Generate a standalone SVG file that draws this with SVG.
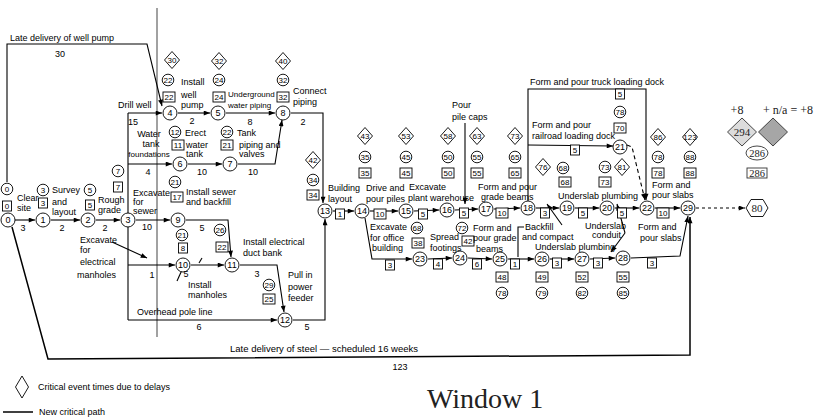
<svg xmlns="http://www.w3.org/2000/svg" xmlns:xlink="http://www.w3.org/1999/xlink" width="814" height="417" viewBox="0 0 814 417">
<style>
.l{fill:none;stroke:#000;stroke-width:1.1}
.a{marker-end:url(#ah)}
.t{font-family:"Liberation Sans",Arial,sans-serif;font-size:9px;fill:#000;stroke:none}
.m{text-anchor:middle}
.s{font-family:"Liberation Sans",Arial,sans-serif;font-size:8px;text-anchor:middle;dominant-baseline:central;fill:#000;stroke:none}
.ns{font-family:"Liberation Sans",Arial,sans-serif;font-size:9px;text-anchor:middle;dominant-baseline:central;fill:#000;stroke:none}
.sf{font-family:"Liberation Serif","Times New Roman",serif;fill:#222;stroke:none}
.sh{fill:#fff;stroke:#000;stroke-width:0.9}
</style>
<defs>
<marker id="ah" viewBox="0 0 10 8" refX="10" refY="4" markerWidth="8" markerHeight="5" orient="auto" markerUnits="userSpaceOnUse"><path d="M0,0L10,4L0,8z" fill="#000"/></marker>
<circle id="N" r="7"/>
<circle id="C" r="5.8"/>
<polygon id="D" points="0,-8.5 7.5,0 0,8.5 -7.5,0"/>
<rect id="B1" x="-4.5" y="-5" width="9" height="10"/>
<rect id="B2" x="-6" y="-5" width="12" height="10"/>
</defs>
<rect width="814" height="417" fill="#fff"/>
<line x1="157" y1="8" x2="157" y2="337" stroke="#8a8a8a" stroke-width="1.6"/>

<g id="connectors" class="l">
<polyline class="a" points="15,220 35,220"/>
<polyline class="a" points="51,220 80,220"/>
<polyline class="a" points="96,220 120,220"/>
<polyline class="a" points="136,220 170,220"/>
<polyline points="128,113 128,320"/>
<polyline class="a" points="128,113 162,113"/>
<polyline class="a" points="128,164 172,164"/>
<polyline class="a" points="128,265 175,265"/>
<polyline class="a" points="128,320 277,320"/>
<polyline class="a" points="7,182 7,44 147,44 162,106"/>
<polyline class="a" points="178,113 210,113"/>
<polyline class="a" points="226,113 275,113"/>
<polyline class="a" points="291,113 323,113 323,203"/>
<polyline class="a" points="188,164 222,164"/>
<polyline class="a" points="238,164 275,164 282,120"/>
<polyline class="a" points="186,220 228,220 231,257"/>
<polyline class="a" points="191,265 224,265"/>
<polyline class="a" points="240,265 277,265 284,312"/>
<polyline class="a" points="293,320 325,320 325,219"/>
<polyline class="a" points="333,211 354,211"/>
<polyline class="a" points="370,211 398,211"/>
<polyline class="a" points="414,211 439,210"/>
<polyline class="a" points="455,210 478,209"/>
<polyline class="a" points="494,209 520,208"/>
<polyline class="a" points="536,208 559,208"/>
<polyline class="a" points="575,208 599,208"/>
<polyline class="a" points="615,208 639,208"/>
<polyline class="a" points="655,208 680,208"/>
<polyline class="a" points="365,218 372,259 412,259"/>
<polyline class="a" points="428,259 452,258"/>
<polyline class="a" points="468,258 492,259"/>
<polyline class="a" points="508,259 534,259"/>
<polyline class="a" points="550,259 574,259"/>
<polyline class="a" points="590,259 615,258"/>
<polyline class="a" points="631,258 680,256 688,216"/>
<polyline class="a" points="528,201 528,89 646,89 646,200"/>
<polyline class="a" points="528,145 613,146"/>
<polyline class="a" points="627,145 632,147 645,200" stroke-dasharray="4,3"/>
<polyline class="a" points="696,208 745,208" stroke-dasharray="3,3"/>
<polyline class="a" points="12,227 48,359 690,355 690,217" stroke-width="1.5"/>
<polyline class="a" points="112,242 147,258"/>
<polyline class="a" points="465,123 465,204"/>
<polyline class="a" points="562,225 547,204"/>
<polyline points="524,227 518,227 518,257"/>
<polyline class="a" points="625,233 617,204"/>
<polyline class="a" points="625,233 611,252"/>
<polyline points="177,281 182,270"/>
<polyline points="199,263 202,258"/>
</g>

<g id="nodes" class="sh">
<g id="node-0"><use href="#N" x="8" y="220"/><text class="ns" x="8" y="220">0</text></g>
<g id="node-1"><use href="#N" x="43" y="220"/><text class="ns" x="43" y="220">1</text></g>
<g id="node-2"><use href="#N" x="88" y="220"/><text class="ns" x="88" y="220">2</text></g>
<g id="node-3"><use href="#N" x="128" y="220"/><text class="ns" x="128" y="220">3</text></g>
<g id="node-4"><use href="#N" x="170" y="113"/><text class="ns" x="170" y="113">4</text></g>
<g id="node-5"><use href="#N" x="218" y="113"/><text class="ns" x="218" y="113">5</text></g>
<g id="node-6"><use href="#N" x="180" y="164"/><text class="ns" x="180" y="164">6</text></g>
<g id="node-7"><use href="#N" x="230" y="164"/><text class="ns" x="230" y="164">7</text></g>
<g id="node-8"><use href="#N" x="283" y="113"/><text class="ns" x="283" y="113">8</text></g>
<g id="node-9"><use href="#N" x="178" y="220"/><text class="ns" x="178" y="220">9</text></g>
<g id="node-10"><use href="#N" x="183" y="265"/><text class="ns" x="183" y="265">10</text></g>
<g id="node-11"><use href="#N" x="232" y="265"/><text class="ns" x="232" y="265">11</text></g>
<g id="node-12"><use href="#N" x="285" y="320"/><text class="ns" x="285" y="320">12</text></g>
<g id="node-13"><use href="#N" x="325" y="211"/><text class="ns" x="325" y="211">13</text></g>
<g id="node-14"><use href="#N" x="362" y="211"/><text class="ns" x="362" y="211">14</text></g>
<g id="node-15"><use href="#N" x="406" y="211"/><text class="ns" x="406" y="211">15</text></g>
<g id="node-16"><use href="#N" x="447" y="210"/><text class="ns" x="447" y="210">16</text></g>
<g id="node-17"><use href="#N" x="486" y="209"/><text class="ns" x="486" y="209">17</text></g>
<g id="node-18"><use href="#N" x="528" y="208"/><text class="ns" x="528" y="208">18</text></g>
<g id="node-19"><use href="#N" x="567" y="208"/><text class="ns" x="567" y="208">19</text></g>
<g id="node-20"><use href="#N" x="607" y="208"/><text class="ns" x="607" y="208">20</text></g>
<g id="node-21"><use href="#N" x="620" y="147"/><text class="ns" x="620" y="147">21</text></g>
<g id="node-22"><use href="#N" x="647" y="208"/><text class="ns" x="647" y="208">22</text></g>
<g id="node-23"><use href="#N" x="420" y="259"/><text class="ns" x="420" y="259">23</text></g>
<g id="node-24"><use href="#N" x="460" y="258"/><text class="ns" x="460" y="258">24</text></g>
<g id="node-25"><use href="#N" x="500" y="259"/><text class="ns" x="500" y="259">25</text></g>
<g id="node-26"><use href="#N" x="542" y="259"/><text class="ns" x="542" y="259">26</text></g>
<g id="node-27"><use href="#N" x="582" y="259"/><text class="ns" x="582" y="259">27</text></g>
<g id="node-28"><use href="#N" x="623" y="258"/><text class="ns" x="623" y="258">28</text></g>
<g id="node-29"><use href="#N" x="688" y="208"/><text class="ns" x="688" y="208">29</text></g>
<g id="node-80"><polygon points="746,208 751,199.5 763,199.5 768,208 763,216.5 751,216.5"/><text class="sf" x="757" y="212" font-size="11" text-anchor="middle">80</text></g>
</g>

<g id="event-times" class="sh">
<use href="#C" x="7" y="189"/><use href="#B1" x="7" y="206"/>
<use href="#C" x="43" y="190"/><use href="#B1" x="43" y="203"/>
<use href="#C" x="90" y="190"/><use href="#B1" x="90" y="205"/>
<use href="#C" x="118" y="171"/><use href="#B1" x="118" y="187"/>
<use href="#D" x="172" y="60"/><use href="#C" x="168" y="80"/><use href="#B2" x="169" y="97"/>
<use href="#D" x="219" y="61"/><use href="#C" x="219" y="80"/><use href="#B2" x="219" y="97"/>
<use href="#D" x="283" y="61"/><use href="#C" x="283" y="80"/><use href="#B2" x="283" y="97"/>
<use href="#C" x="175" y="132"/><use href="#B2" x="178" y="145"/>
<use href="#C" x="227" y="132"/><use href="#B2" x="227" y="145"/>
<use href="#C" x="175" y="182"/><use href="#B2" x="177" y="197"/>
<use href="#C" x="182" y="235"/><use href="#B1" x="183" y="248"/>
<use href="#C" x="220" y="230"/><use href="#B2" x="222" y="247"/>
<use href="#C" x="269" y="285"/><use href="#B2" x="269" y="299"/>
<use href="#D" x="313" y="160"/><use href="#C" x="313" y="180"/><use href="#B2" x="313" y="195"/>
<use href="#D" x="365" y="136"/><use href="#C" x="365" y="157"/><use href="#B2" x="365" y="173"/>
<use href="#D" x="406" y="136"/><use href="#C" x="406" y="157"/><use href="#B2" x="406" y="173"/>
<use href="#D" x="448" y="136"/><use href="#C" x="448" y="157"/><use href="#B2" x="448" y="173"/>
<use href="#D" x="477" y="136"/><use href="#C" x="477" y="157"/><use href="#B2" x="477" y="173"/>
<use href="#D" x="515" y="136"/><use href="#C" x="515" y="157"/><use href="#B2" x="515" y="173"/>
<use href="#C" x="417" y="228"/><use href="#B2" x="418" y="243"/>
<use href="#C" x="462" y="228"/><use href="#B2" x="468" y="241"/>
<use href="#D" x="543" y="167"/><use href="#C" x="563" y="168"/><use href="#B2" x="565" y="182"/>
<use href="#C" x="605" y="167"/><use href="#D" x="622" y="167"/><use href="#B2" x="605" y="182"/>
<use href="#D" x="658" y="137"/><use href="#C" x="658" y="157"/><use href="#B2" x="658" y="173"/>
<use href="#D" x="690" y="137"/><use href="#C" x="690" y="157"/><use href="#B2" x="690" y="173"/>
<use href="#C" x="620" y="112"/><use href="#B2" x="620" y="128"/>
<use href="#B2" x="502" y="277"/><use href="#C" x="502" y="293"/>
<use href="#B2" x="542" y="277"/><use href="#C" x="542" y="293"/>
<use href="#B2" x="582" y="277"/><use href="#C" x="582" y="293"/>
<use href="#B2" x="623" y="277"/><use href="#C" x="623" y="293"/>
</g>
<g id="event-time-labels">
<text class="s" x="7" y="189">0</text><text class="s" x="7" y="206">0</text>
<text class="s" x="43" y="190">3</text><text class="s" x="43" y="203">3</text>
<text class="s" x="90" y="190">5</text><text class="s" x="90" y="205">5</text>
<text class="s" x="118" y="171">7</text><text class="s" x="118" y="187">7</text>
<text class="s" x="172" y="60">30</text><text class="s" x="168" y="80">22</text><text class="s" x="169" y="97">22</text>
<text class="s" x="219" y="61">32</text><text class="s" x="219" y="80">24</text><text class="s" x="219" y="97">24</text>
<text class="s" x="283" y="61">40</text><text class="s" x="283" y="80">32</text><text class="s" x="283" y="97">32</text>
<text class="s" x="175" y="132">12</text><text class="s" x="178" y="145">11</text>
<text class="s" x="227" y="132">22</text><text class="s" x="227" y="145">21</text>
<text class="s" x="175" y="182">21</text><text class="s" x="177" y="197">17</text>
<text class="s" x="182" y="235">21</text><text class="s" x="183" y="248">8</text>
<text class="s" x="220" y="230">26</text><text class="s" x="222" y="247">22</text>
<text class="s" x="269" y="285">29</text><text class="s" x="269" y="299">25</text>
<text class="s" x="313" y="160">42</text><text class="s" x="313" y="180">34</text><text class="s" x="313" y="195">34</text>
<text class="s" x="365" y="136">43</text><text class="s" x="365" y="157">35</text><text class="s" x="365" y="173">35</text>
<text class="s" x="406" y="136">53</text><text class="s" x="406" y="157">45</text><text class="s" x="406" y="173">45</text>
<text class="s" x="448" y="136">58</text><text class="s" x="448" y="157">50</text><text class="s" x="448" y="173">50</text>
<text class="s" x="477" y="136">63</text><text class="s" x="477" y="157">55</text><text class="s" x="477" y="173">55</text>
<text class="s" x="515" y="136">73</text><text class="s" x="515" y="157">65</text><text class="s" x="515" y="173">65</text>
<text class="s" x="417" y="228">68</text><text class="s" x="418" y="243">38</text>
<text class="s" x="462" y="228">72</text><text class="s" x="468" y="241">42</text>
<text class="s" x="543" y="167">76</text><text class="s" x="563" y="168">68</text><text class="s" x="565" y="182">68</text>
<text class="s" x="605" y="167">73</text><text class="s" x="622" y="167">81</text><text class="s" x="605" y="182">73</text>
<text class="s" x="658" y="137">86</text><text class="s" x="658" y="157">78</text><text class="s" x="658" y="173">78</text>
<text class="s" x="690" y="137" font-size="7">123</text><text class="s" x="690" y="157">88</text><text class="s" x="690" y="173">88</text>
<text class="s" x="620" y="112">78</text><text class="s" x="620" y="128">70</text>
<text class="s" x="502" y="277">48</text><text class="s" x="502" y="293">78</text>
<text class="s" x="542" y="277">49</text><text class="s" x="542" y="293">79</text>
<text class="s" x="582" y="277">52</text><text class="s" x="582" y="293">82</text>
<text class="s" x="623" y="277">55</text><text class="s" x="623" y="293">85</text>
</g>

<g id="durations">
<g class="sh">
<use href="#B1" x="340" y="214"/><use href="#B2" x="380" y="214"/><use href="#B1" x="423" y="214"/><use href="#B1" x="464" y="213"/>
<use href="#B2" x="502" y="213"/><use href="#B1" x="545" y="213"/><use href="#B1" x="583" y="213"/><use href="#B1" x="622" y="213"/><use href="#B2" x="663" y="213"/>
<use href="#B1" x="390" y="265"/><use href="#B1" x="438" y="264"/><use href="#B1" x="477" y="264"/><use href="#B1" x="515" y="264"/>
<use href="#B1" x="557" y="263"/><use href="#B1" x="598" y="263"/><use href="#B1" x="652" y="263"/>
<use href="#B1" x="620" y="94"/><use href="#B1" x="575" y="150"/>
</g>
<text class="s" x="340" y="214">1</text><text class="s" x="380" y="214">10</text><text class="s" x="423" y="214">5</text><text class="s" x="464" y="213">5</text>
<text class="s" x="502" y="213">10</text><text class="s" x="545" y="213">3</text><text class="s" x="583" y="213">5</text><text class="s" x="622" y="213">5</text><text class="s" x="663" y="213">10</text>
<text class="s" x="390" y="265">3</text><text class="s" x="438" y="264">4</text><text class="s" x="477" y="264">6</text><text class="s" x="515" y="264">1</text>
<text class="s" x="557" y="263">3</text><text class="s" x="598" y="263">3</text><text class="s" x="652" y="263">3</text>
<text class="s" x="620" y="94">5</text><text class="s" x="575" y="150">5</text>
<g class="t m">
<text x="60" y="57">30</text><text x="133" y="125">15</text>
<text x="23" y="231">3</text><text x="62" y="231">2</text><text x="105" y="231">2</text><text x="147" y="230">10</text>
<text x="152" y="278">1</text><text x="192" y="124">2</text><text x="250" y="125">8</text><text x="303" y="125">2</text>
<text x="148" y="175">4</text><text x="202" y="175">10</text><text x="253" y="175">10</text>
<text x="202" y="231">5</text><text x="186" y="277">5</text><text x="257" y="277">3</text>
<text x="199" y="330">6</text><text x="307" y="330">5</text><text x="400" y="370">123</text>
</g>
</g>

<g id="labels" class="t">
<text x="10" y="41">Late delivery of well pump</text>
<text x="118" y="108">Drill well</text>
<text x="149" y="137" class="m">Water</text><text x="151" y="147" class="m">tank</text><text x="149" y="157" class="m" font-size="8">foundations</text>
<text x="17" y="201">Clear</text><text x="17" y="211">site</text>
<text x="52" y="193">Survey</text><text x="52" y="205">and</text><text x="52" y="215">layout</text>
<text x="98" y="203">Rough</text><text x="98" y="213">grade</text>
<text x="133" y="196">Excavate</text><text x="133" y="205">for</text><text x="133" y="214">sewer</text>
<text x="80" y="243">Excavate</text><text x="80" y="253">for</text><text x="80" y="265">electrical</text><text x="77" y="278">manholes</text>
<text x="181" y="85">Install</text><text x="181" y="98">well</text><text x="181" y="108">pump</text>
<text x="228" y="97" font-size="8">Underground</text><text x="228" y="108" font-size="8">water piping</text>
<text x="293" y="94">Connect</text><text x="293" y="105">piping</text>
<text x="185" y="136">Erect</text><text x="186" y="148">water</text><text x="186" y="157">tank</text>
<text x="237" y="136">Tank</text><text x="239" y="148">piping and</text><text x="239" y="157">valves</text>
<text x="186" y="195">Install sewer</text><text x="186" y="205">and backfill</text>
<text x="243" y="245">Install electrical</text><text x="243" y="256">duct bank</text>
<text x="188" y="288">Install</text><text x="188" y="298">manholes</text>
<text x="288" y="278">Pull in</text><text x="288" y="290">power</text><text x="288" y="301">feeder</text>
<text x="137" y="315">Overhead pole line</text>
<text x="328" y="191">Building</text><text x="328" y="202">layout</text>
<text x="366" y="191">Drive and</text><text x="366" y="202">pour piles</text>
<text x="409" y="190">Excavate</text><text x="408" y="201">plant warehouse</text>
<text x="452" y="108">Pour</text><text x="452" y="120">pile caps</text>
<text x="478" y="190">Form and pour</text><text x="481" y="200">grade beams</text>
<text x="370" y="230">Excavate</text><text x="370" y="241">for office</text><text x="372" y="251">building</text>
<text x="430" y="240">Spread</text><text x="430" y="251">footings</text>
<text x="473" y="231">Form and</text><text x="473" y="241">pour grade</text><text x="476" y="252">beams</text>
<text x="525" y="230">Backfill</text><text x="522" y="240">and compact</text>
<text x="535" y="250">Underslab plumbing</text>
<text x="558" y="199">Underslab plumbing</text>
<text x="585" y="229">Underslab</text><text x="592" y="238">conduit</text>
<text x="638" y="230">Form and</text><text x="640" y="241">pour slabs</text>
<text x="652" y="188">Form and</text><text x="652" y="198">pour slabs</text>
<text x="530" y="85">Form and pour truck loading dock</text>
<text x="532" y="128">Form and pour</text><text x="532" y="139">railroad loading dock</text>
<text x="230" y="352" font-size="9.5">Late delivery of steel — scheduled 16 weeks</text>
</g>

<g id="delay-summary">
<text class="sf" x="737" y="114" font-size="12" text-anchor="middle">+8</text>
<text class="sf" x="763" y="114" font-size="12">+ n/a = +8</text>
<polygon points="727.5,132 742,118 756.5,132 742,146" fill="#dcdcdc" stroke="#333" stroke-width="0.9"/>
<text class="sf" x="742" y="136" font-size="11" text-anchor="middle">294</text>
<polygon points="758.5,132 773,118 787.5,132 773,146" fill="#a6a6a6" stroke="#333" stroke-width="0.9"/>
<ellipse cx="757" cy="153" rx="11" ry="7" fill="#fff" stroke="#333" stroke-width="0.9"/>
<text class="sf" x="757" y="157" font-size="10.5" text-anchor="middle">286</text>
<rect x="747" y="168" width="20" height="10" fill="#fff" stroke="#333" stroke-width="0.9"/>
<text class="sf" x="757" y="176.5" font-size="10.5" text-anchor="middle">286</text>
</g>

<g id="legend">
<polygon points="22,376 28.5,387 22,398 15.5,387" fill="#fff" stroke="#000" stroke-width="0.9"/>
<text class="t" x="38" y="390" font-size="9.8">Critical event times due to delays</text>
<line x1="3" y1="412" x2="33" y2="412" stroke="#000" stroke-width="1.5"/>
<text class="t" x="39" y="415">New critical path</text>
</g>
<text class="sf" x="427" y="408" font-size="28" fill="#333">Window 1</text>
</svg>
